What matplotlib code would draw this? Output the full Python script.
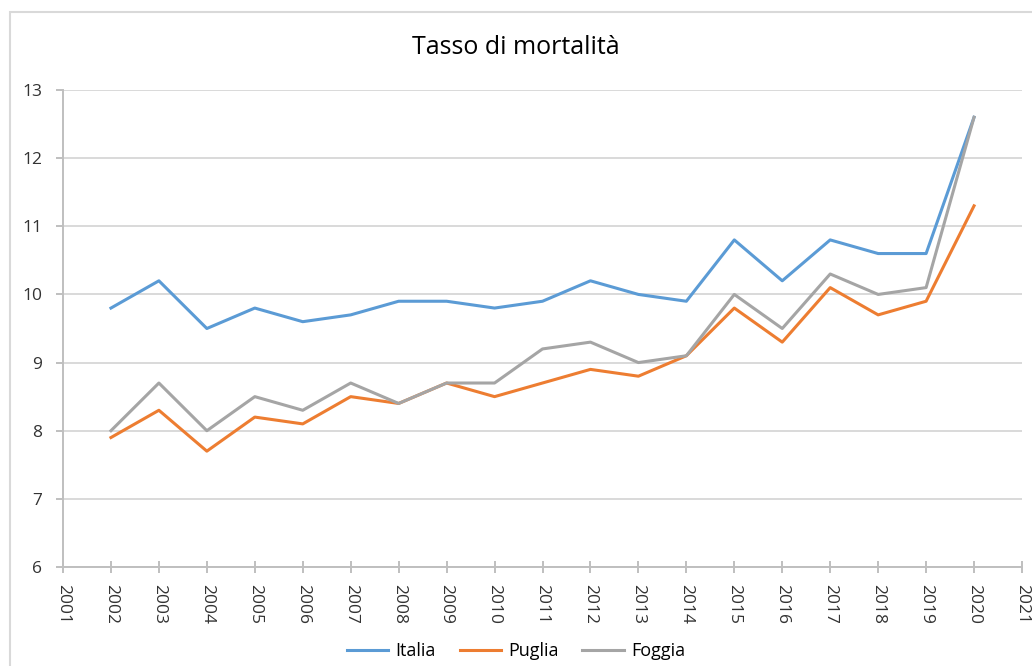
import matplotlib.pyplot as plt
from matplotlib.patches import Rectangle

plt.rcParams['font.family'] = ['Open Sans', 'DejaVu Sans']

years = list(range(2002, 2021))
italia = [9.8, 10.2, 9.5, 9.8, 9.6, 9.7, 9.9, 9.9, 9.8, 9.9,
          10.2, 10.0, 9.9, 10.8, 10.2, 10.8, 10.6, 10.6, 12.6]
puglia = [7.9, 8.3, 7.7, 8.2, 8.1, 8.5, 8.4, 8.7, 8.5, 8.7,
          8.9, 8.8, 9.1, 9.8, 9.3, 10.1, 9.7, 9.9, 11.3]
foggia = [8.0, 8.7, 8.0, 8.5, 8.3, 8.7, 8.4, 8.7, 8.7, 9.2,
          9.3, 9.0, 9.1, 10.0, 9.5, 10.3, 10.0, 10.1, 12.6]

fig = plt.figure(figsize=(10.32, 6.66), dpi=100)

# chart frame (runs off the right and bottom edge)
fig.patches.append(Rectangle((10 / 1032, -0.05), 1.1, 1 - 12 / 666 + 0.05,
                             transform=fig.transFigure, fill=False,
                             edgecolor='#d9d9d9', linewidth=1.5))

ax = fig.add_axes([63 / 1032, 1 - 567 / 666, (1022 - 63) / 1032, (567 - 90) / 666])

ax.plot(years, italia, color='#5B9BD5', linewidth=2.2, label='Italia')
ax.plot(years, puglia, color='#ED7D31', linewidth=2.2, label='Puglia')
ax.plot(years, foggia, color='#A5A5A5', linewidth=2.2, label='Foggia')

ax.set_xlim(2001, 2021)
ax.set_ylim(6, 13)
ax.set_xticks(range(2001, 2022))
ax.set_xticklabels([str(y) for y in range(2001, 2022)], rotation=270,
                   va='top', ha='center', fontsize=12.5, color='#333333')
ax.set_yticks(range(6, 14))
ax.set_yticklabels([str(v) for v in range(6, 14)], fontsize=12.5, color='#333333')

ax.grid(axis='y', color='#d9d9d9', linewidth=1.4)
ax.set_axisbelow(True)
for side in ('top', 'right'):
    ax.spines[side].set_visible(False)
for side in ('left', 'bottom'):
    ax.spines[side].set_color('#bfbfbf')
    ax.spines[side].set_linewidth(1.4)
ax.tick_params(axis='x', direction='inout', length=8, width=1.4, color='#bfbfbf', pad=8)
ax.tick_params(axis='y', direction='out', length=5, width=1.4, color='#bfbfbf', pad=10)

fig.text(0.5, 1 - 47 / 666, 'Tasso di mortalità', ha='center', va='center',
         fontsize=18, color='#000000')

fig.legend(loc='center', bbox_to_anchor=(0.5, 1 - 651 / 666), ncol=3, frameon=False,
           fontsize=13, handlelength=2.3, columnspacing=1.3, handletextpad=0.4)

fig.savefig('out.png', dpi=100)
